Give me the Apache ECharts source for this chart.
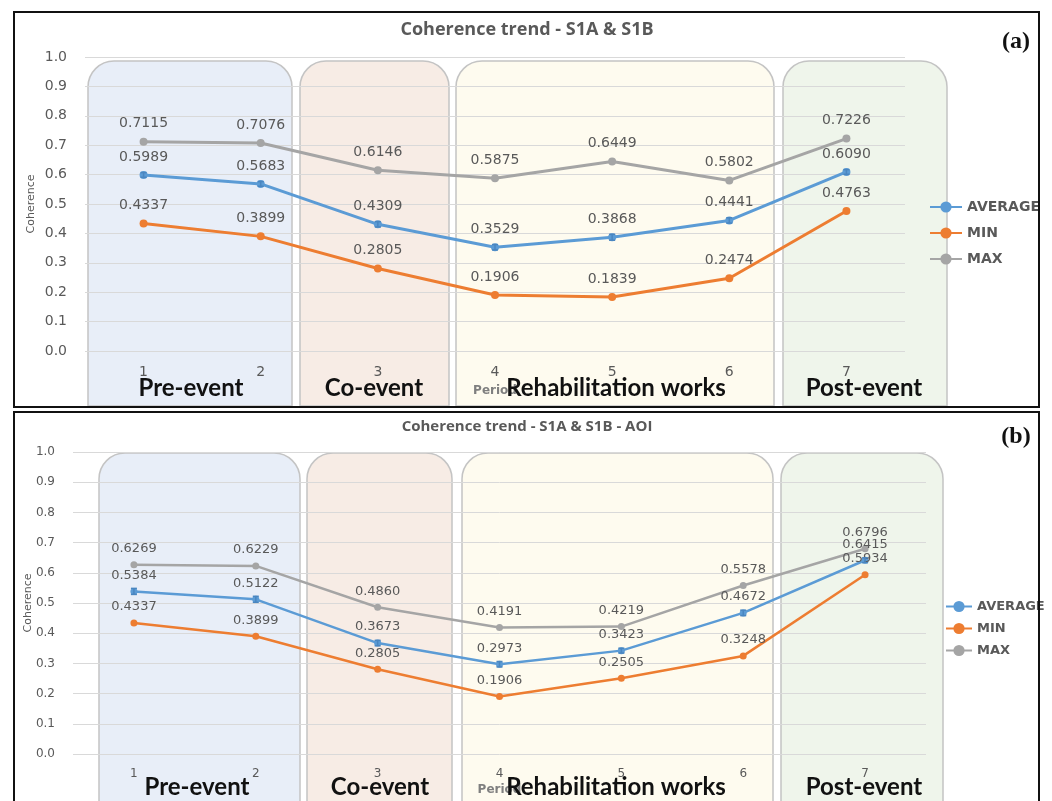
<!DOCTYPE html>
<html>
<head>
<meta charset="utf-8">
<script src="https://cdn.jsdelivr.net/npm/echarts@6/dist/echarts.min.js"></script>
<style>
  html, body { margin: 0; padding: 0; background: #ffffff; }
  #chart { width: 1052px; height: 801px; }
</style>
</head>
<body>
<div id="chart"></div>
<script>
// Periods on the x axis
const periods = ['1', '2', '3', '4', '5', '6', '7'];
const yTicks = [0, 0.1, 0.2, 0.3, 0.4, 0.5, 0.6, 0.7, 0.8, 0.9, 1.0];

// (a) Coherence trend - S1A & S1B
const avgA = [0.5989, 0.5683, 0.4309, 0.3529, 0.3868, 0.4441, 0.6090];
const minA = [0.4337, 0.3899, 0.2805, 0.1906, 0.1839, 0.2474, 0.4763];
const maxA = [0.7115, 0.7076, 0.6146, 0.5875, 0.6449, 0.5802, 0.7226];
const errA = [0.008, 0.008, 0.009, 0.009, 0.010, 0.009, 0.008];

// (b) Coherence trend - S1A & S1B - AOI
const avgB = [0.5384, 0.5122, 0.3673, 0.2973, 0.3423, 0.4672, 0.6415];
const minB = [0.4337, 0.3899, 0.2805, 0.1906, 0.2505, 0.3248, 0.5934];
const maxB = [0.6269, 0.6229, 0.4860, 0.4191, 0.4219, 0.5578, 0.6796];
const errB = [0.010, 0.010, 0.009, 0.009, 0.008, 0.009, 0.008];

const seriesNames = ['AVERAGE', 'MIN', 'MAX'];
const phases = ['Pre-event', 'Co-event', 'Rehabilitation works', 'Post-event'];

const COLORS = { AVERAGE: '#5b9bd5', MIN: '#ed7d31', MAX: '#a5a5a5' };
const TEXT = '#595959';
const BOX_FILL = ['#e8eef8', '#f7ece5', '#fefbef', '#eff5eb'];

const chart = echarts.init(document.getElementById('chart'), null, { renderer: 'canvas' });

function yAxisCfg(gridIndex, fontSize, nameGap) {
  return {
    type: 'value', gridIndex, min: 0, max: 1, interval: 0.1,
    name: 'Coherence', nameLocation: 'middle', nameGap, nameMoveOverlap: false,
    nameTextStyle: { color: TEXT, fontSize: 11, fontFamily: 'DejaVu Sans' },
    axisLine: { show: false }, axisTick: { show: false },
    axisLabel: { color: TEXT, fontSize, fontFamily: 'DejaVu Sans', margin: 18,
      formatter: v => v.toFixed(1) },
    splitLine: { lineStyle: { color: '#d9d9d9', width: 1 } }
  };
}

function xAxisCfg(gridIndex, fontSize, nameGap) {
  return {
    type: 'category', gridIndex, data: periods, boundaryGap: true,
    name: 'Period', nameLocation: 'middle', nameGap, nameMoveOverlap: false,
    nameTextStyle: { color: '#7f7f7f', fontSize: 12, fontWeight: 'bold', fontFamily: 'DejaVu Sans' },
    axisLine: { show: false }, axisTick: { show: false },
    axisLabel: { color: TEXT, fontSize, fontFamily: 'DejaVu Sans', margin: 14 },
    splitLine: { show: false }
  };
}

function lineSeries(name, data, idx, opts) {
  return {
    name, type: 'line', data, xAxisIndex: idx, yAxisIndex: idx,
    color: COLORS[name], symbol: 'circle', symbolSize: opts.symbolSize,
    lineStyle: { width: opts.lineWidth, color: COLORS[name] },
    itemStyle: { color: COLORS[name] },
    label: { show: true, position: 'top', distance: opts.labelDist, color: TEXT,
      fontSize: opts.labelSize, fontFamily: 'DejaVu Sans',
      formatter: p => Number(p.value).toFixed(4) },
    z: 3, animation: false
  };
}

function errorBars(name, avg, err, idx) {
  return {
    name, type: 'custom', xAxisIndex: idx, yAxisIndex: idx, silent: true, z: 4,
    data: avg.map((v, i) => [i, v - err[i], v + err[i]]),
    renderItem(params, api) {
      const lo = api.coord([api.value(0), api.value(1)]);
      const hi = api.coord([api.value(0), api.value(2)]);
      const w = 3;
      const st = { stroke: '#4a86c0', lineWidth: 1.5 };
      return { type: 'group', children: [
        { type: 'line', shape: { x1: lo[0], y1: lo[1], x2: hi[0], y2: hi[1] }, style: st },
        { type: 'line', shape: { x1: lo[0] - w, y1: lo[1], x2: lo[0] + w, y2: lo[1] }, style: st },
        { type: 'line', shape: { x1: hi[0] - w, y1: hi[1], x2: hi[0] + w, y2: hi[1] }, style: st }
      ]};
    },
    animation: false
  };
}

// Decorative phase panels: [x, width] per phase, plus top/bottom of the panel row
const boxesA = { xs: [[88, 204], [300, 149], [456, 318], [783, 164]], top: 61, bottom: 406 };
const boxesB = { xs: [[99, 201], [307, 145], [462, 311], [781, 162]], top: 453, bottom: 803 };
const phaseTextA = { xs: [191, 374, 616, 864], y: 388 };
const phaseTextB = { xs: [197, 380, 616, 864], y: 787 };

function phaseGraphics(boxes, texts) {
  const out = [];
  boxes.xs.forEach(([x, w], i) => {
    out.push({ type: 'rect', z: -1,
      shape: { x, y: boxes.top, width: w, height: boxes.bottom - boxes.top, r: [26, 26, 0, 0] },
      style: { fill: BOX_FILL[i], stroke: '#c4c4c4', lineWidth: 1.5 } });
  });
  texts.xs.forEach((x, i) => {
    out.push({ type: 'text', z: 50, x, y: texts.y,
      style: { text: phases[i], fill: '#111111', font: 'bold 24px Lato',
        textAlign: 'center', textVerticalAlign: 'middle' } });
  });
  return out;
}

const option = {
  backgroundColor: '#ffffff',
  animation: false,
  grid: [
    { left: 85, right: 147, top: 57, height: 294 },
    { left: 73, right: 126, top: 452, height: 302 }
  ],
  xAxis: [xAxisCfg(0, 14, 34), xAxisCfg(1, 12, 30)],
  yAxis: [yAxisCfg(0, 14, 48), yAxisCfg(1, 12, 39)],
  legend: [
    { data: seriesNames, orient: 'vertical', left: 924, top: 195, itemGap: 12,
      itemWidth: 32, itemHeight: 14,
      textStyle: { color: TEXT, fontSize: 14, fontWeight: 'bold', fontFamily: 'DejaVu Sans' } },
    { data: seriesNames, orient: 'vertical', left: 940, top: 595, itemGap: 9,
      itemWidth: 26, itemHeight: 14,
      textStyle: { color: TEXT, fontSize: 13, fontWeight: 'bold', fontFamily: 'DejaVu Sans' } }
  ],
  graphic: [
    ...phaseGraphics(boxesA, phaseTextA),
    ...phaseGraphics(boxesB, phaseTextB),
    { type: 'rect', z: 60, shape: { x: 14, y: 12, width: 1025, height: 395 },
      style: { fill: 'none', stroke: '#111111', lineWidth: 2 } },
    { type: 'rect', z: 60, shape: { x: 14, y: 412, width: 1025, height: 395 },
      style: { fill: 'none', stroke: '#111111', lineWidth: 2 } },
    { type: 'text', z: 60, x: 527, y: 30,
      style: { text: 'Coherence trend - S1A & S1B', fill: TEXT, font: 'bold 18px "Open Sans"',
        textAlign: 'center', textVerticalAlign: 'middle' } },
    { type: 'text', z: 60, x: 527, y: 427,
      style: { text: 'Coherence trend - S1A & S1B - AOI', fill: TEXT, font: 'bold 15px "Open Sans"',
        textAlign: 'center', textVerticalAlign: 'middle' } },
    { type: 'text', z: 60, x: 1016, y: 42,
      style: { text: '(a)', fill: '#111111', font: 'bold 24px "Liberation Serif"',
        textAlign: 'center', textVerticalAlign: 'middle' } },
    { type: 'text', z: 60, x: 1016, y: 437,
      style: { text: '(b)', fill: '#111111', font: 'bold 24px "Liberation Serif"',
        textAlign: 'center', textVerticalAlign: 'middle' } }
  ],
  series: [
    lineSeries('AVERAGE', avgA, 0, { symbolSize: 8, lineWidth: 3, labelDist: 7, labelSize: 14 }),
    lineSeries('MIN', minA, 0, { symbolSize: 8, lineWidth: 3, labelDist: 7, labelSize: 14 }),
    lineSeries('MAX', maxA, 0, { symbolSize: 8, lineWidth: 3, labelDist: 7, labelSize: 14 }),
    errorBars('AVERAGE range', avgA, errA, 0),
    lineSeries('AVERAGE', avgB, 1, { symbolSize: 7, lineWidth: 2.5, labelDist: 6, labelSize: 13 }),
    lineSeries('MIN', minB, 1, { symbolSize: 7, lineWidth: 2.5, labelDist: 6, labelSize: 13 }),
    lineSeries('MAX', maxB, 1, { symbolSize: 7, lineWidth: 2.5, labelDist: 6, labelSize: 13 }),
    errorBars('AVERAGE range', avgB, errB, 1)
  ]
};

chart.setOption(option);
</script>
</body>
</html>
